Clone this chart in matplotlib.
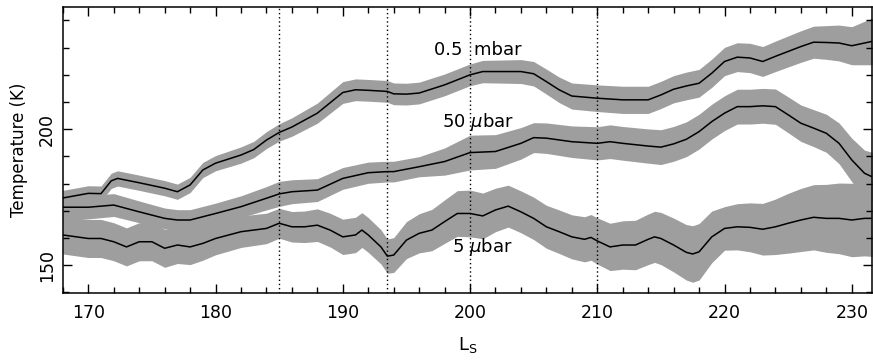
import numpy as np
import matplotlib
matplotlib.use("Agg")
import matplotlib.pyplot as plt
from matplotlib.ticker import MultipleLocator

# 0.5 mbar curve (Ls, temperature, half width of grey band)
ls_hi = [168, 170, 171, 171.8, 172.3, 174, 176, 177, 178, 179, 180, 182, 183, 184, 185, 186,
         188, 190, 191, 192, 193.5, 194, 195, 196, 198, 200, 201, 202, 204, 205, 206, 207,
         208, 210, 212, 214, 215, 216, 217, 218, 219, 220, 221, 222, 223, 224, 225, 226,
         227, 228, 229, 230, 231, 231.6]
t_hi = [174.7, 176.4, 176.3, 181.0, 181.9, 180.3, 178.3, 177.0, 179.5, 185.0, 187.5, 190.5, 192.5, 196.0, 198.8, 200.8,
        205.9, 213.5, 214.5, 214.3, 213.9, 213.0, 212.9, 213.3, 216.3, 220.0, 221.2, 221.2, 221.2, 220.4, 217.5, 214.5,
        212.2, 211.4, 210.8, 210.8, 212.6, 214.7, 215.9, 216.9, 220.6, 224.9, 226.5, 226.2, 224.9, 226.8, 228.6, 230.4,
        232.0, 231.9, 231.7, 230.7, 231.7, 232.3]
e_hi = [2.8, 2.8, 2.8, 2.8, 2.8, 2.8, 2.8, 2.8, 2.8, 2.8, 2.8, 3.0, 3.0, 3.1, 3.2, 3.4,
        3.7, 4.0, 4.0, 4.0, 4.0, 4.0, 4.0, 4.0, 4.0, 4.0, 4.1, 4.2, 4.4, 4.5, 4.6, 4.7,
        4.8, 4.9, 5.0, 5.0, 5.0, 5.0, 5.1, 5.1, 5.2, 5.2, 5.3, 5.4, 5.5, 5.6, 5.7, 5.8,
        5.9, 6.2, 6.6, 7.0, 8.0, 8.6]

# 50 microbar curve
ls_mid = [168, 170, 172, 174, 176, 177, 178, 179, 180, 182, 184, 185, 186, 188, 190, 192,
          193.5, 194, 196, 198, 200, 202, 204, 205, 206, 208, 210, 211, 212, 214, 215, 216,
          217, 218, 219, 220, 221, 222, 223, 224, 225, 226, 227, 228, 229, 230, 231, 231.6]
t_mid = [171.3, 171.3, 172.1, 169.6, 167.2, 166.6, 166.6, 167.8, 169.0, 171.5, 174.6, 176.2, 177.0, 177.6, 181.9, 184.0,
         184.4, 184.4, 186.2, 188.1, 191.4, 191.8, 194.8, 196.9, 196.7, 195.4, 194.8, 195.4, 194.8, 193.8, 193.4, 194.6,
         196.3, 199.1, 202.8, 205.9, 208.3, 208.3, 208.6, 208.3, 205.3, 202.2, 200.4, 198.5, 194.8, 188.7, 183.8, 182.5]
e_mid = [4.3, 4.3, 4.2, 4.0, 3.8, 3.8, 3.8, 3.8, 3.8, 4.0, 4.3, 4.6, 4.4, 4.2, 4.0, 3.9,
         3.8, 3.8, 3.7, 5.0, 6.4, 6.2, 5.8, 5.5, 5.6, 5.8, 6.1, 6.2, 6.2, 6.3, 6.4, 6.4,
         6.4, 6.4, 6.4, 6.4, 6.4, 6.4, 6.4, 6.5, 6.6, 6.7, 6.8, 7.0, 7.5, 8.0, 8.5, 9.0]

# 5 microbar curve
ls_lo = [168, 170, 171, 172, 173, 174, 175, 176, 177, 178, 179, 180, 182, 184, 185, 186,
         187, 188, 189, 190, 191, 191.5, 192, 193, 193.5, 194, 195, 196, 197, 198, 199, 200,
         201, 202, 203, 204, 205, 206, 207, 208, 209, 209.5, 210, 211, 212, 213, 214, 214.5,
         215, 216, 217, 217.5, 218, 219, 220, 221, 222, 223, 224, 225, 226, 227, 228, 229,
         230, 231, 231.6]
t_lo = [161.1, 159.8, 159.8, 158.6, 156.7, 158.6, 158.6, 156.2, 157.4, 156.7, 158.0, 159.8, 162.3, 163.5, 165.4, 164.1,
        164.1, 164.7, 162.9, 160.4, 161.1, 162.9, 161.1, 156.7, 153.3, 153.7, 159.2, 161.7, 162.9, 166.0, 169.0, 169.0,
        168.1, 170.3, 171.7, 169.6, 167.2, 164.1, 162.3, 160.4, 159.5, 160.2, 158.9, 156.7, 157.4, 157.4, 159.5, 160.4,
        159.8, 157.4, 154.7, 154.1, 154.9, 160.4, 163.5, 164.1, 163.9, 163.2, 164.1, 165.4, 166.6, 167.6, 167.2, 167.2,
        166.6, 167.2, 167.2]
e_lo = [7.0, 7.0, 7.0, 7.0, 7.0, 7.0, 7.0, 7.0, 6.8, 6.5, 6.2, 6.0, 5.8, 5.6, 5.5, 5.6,
        5.8, 6.0, 6.2, 6.5, 6.5, 6.4, 6.4, 6.3, 6.3, 6.4, 6.8, 7.2, 7.6, 8.0, 8.4, 8.6,
        8.4, 8.0, 7.7, 7.7, 7.8, 7.9, 8.0, 8.1, 8.3, 8.4, 8.5, 8.7, 8.9, 9.1, 9.3, 9.4,
        9.6, 9.9, 10.2, 10.4, 10.4, 9.5, 8.0, 8.5, 9.0, 9.5, 10.2, 11.0, 11.6, 12.0, 12.5, 13.0,
        13.5, 13.8, 14.0]

season_marks = [185, 193.5, 200, 210]

fig = plt.figure(figsize=(8.73, 3.61), dpi=100)
ax = fig.add_axes([0.072, 0.188, 0.927, 0.793])

band = '#9e9e9e'
for x, t, e in [(ls_hi, t_hi, e_hi), (ls_mid, t_mid, e_mid), (ls_lo, t_lo, e_lo)]:
    x, t, e = np.array(x), np.array(t), np.array(e)
    ax.fill_between(x, t - e, t + e, color=band, lw=0, zorder=1)

for m in season_marks:
    ax.axvline(m, color='k', ls=(0, (1, 2)), lw=1.0, zorder=2)

for x, t in [(ls_hi, t_hi), (ls_mid, t_mid), (ls_lo, t_lo)]:
    ax.plot(x, t, color='k', lw=1.1, zorder=3)

ax.text(197.2, 229.2, '0.5  mbar', fontsize=13, ha='left', va='center', zorder=4)
ax.text(197.8, 202.8, r'50 $\mu$bar', fontsize=13, ha='left', va='center', zorder=4)
ax.text(198.6, 156.7, r'5 $\mu$bar', fontsize=13, ha='left', va='center', zorder=4)

ax.set_xlim(168, 231.6)
ax.set_ylim(139.7, 245)
ax.xaxis.set_major_locator(MultipleLocator(10))
ax.xaxis.set_minor_locator(MultipleLocator(2))
ax.yaxis.set_major_locator(MultipleLocator(50))
ax.yaxis.set_minor_locator(MultipleLocator(10))
ax.tick_params(which='both', direction='in', top=True, right=True, width=1.0, labelsize=12.5)
ax.tick_params(which='major', length=6.5)
ax.tick_params(which='minor', length=4)
ax.tick_params(axis='x', pad=8)
ax.tick_params(axis='y', pad=5)
for lab in ax.get_yticklabels():
    lab.set_rotation(90)
    lab.set_va('center')
for s in ax.spines.values():
    s.set_linewidth(1.1)

ax.set_xlabel(r'L$_{\rm S}$', fontsize=13, labelpad=9)
ax.set_ylabel('Temperature (K)', fontsize=12, labelpad=7)

fig.savefig('out.png', dpi=100)
